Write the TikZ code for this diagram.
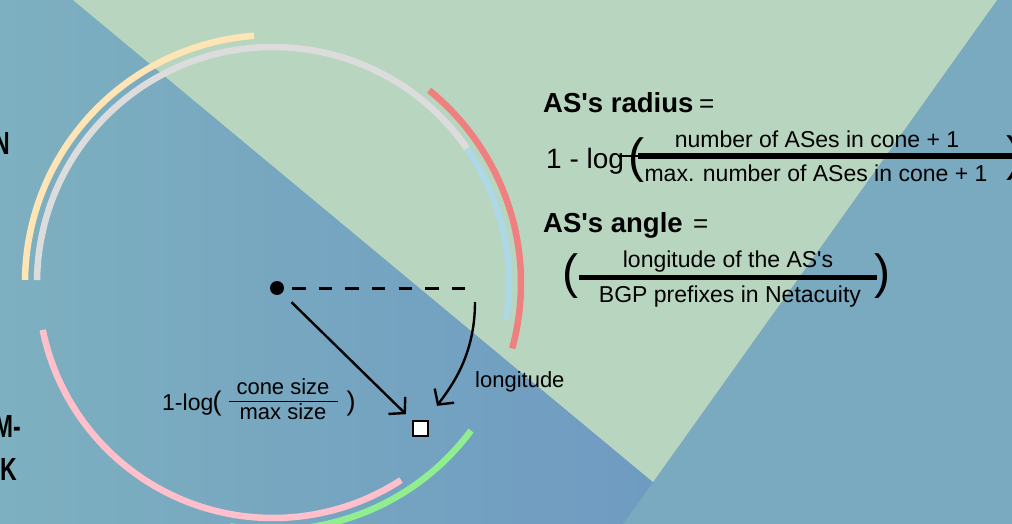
\documentclass[tikz,border=0pt]{standalone}
\usepackage{fontspec}
\setmainfont{Liberation Sans}
\newfontfamily\condfont[FakeStretch=0.72]{Liberation Sans}
\usetikzlibrary{arrows.meta,calc}
\definecolor{bgright}{HTML}{79AABF}
\definecolor{bgleftA}{HTML}{7DB0C0}
\definecolor{bgleftB}{HTML}{6F9BC1}
\definecolor{bggreen}{HTML}{B8D6BF}
\definecolor{arcyellow}{HTML}{FFE4B5}
\definecolor{arcgray}{HTML}{DCDCDC}
\definecolor{arcblue}{HTML}{ADD8E6}
\definecolor{arcred}{HTML}{F08080}
\definecolor{arcpink}{HTML}{FFC0CB}
\definecolor{arcgreen}{HTML}{90EE90}
\newcommand{\apos}{\textquotesingle}
\begin{document}
\begin{tikzpicture}[x=1pt,y=-1pt,
  ring/.style={line width=6.5pt, line cap=butt},
  arr/.style={-{Straight Barb[length=11pt,width=24pt]}, line width=2.4pt},
  txt/.style={inner sep=0pt, font=\fontsize{23}{27}\selectfont},
  big/.style={inner sep=0pt, font=\fontsize{27.5}{30}\selectfont\bfseries},
  eqs/.style={inner sep=0pt, font=\fontsize{26}{30}\selectfont},
  paren/.style={inner sep=0pt, font=\fontsize{48}{50}\selectfont},
  sm/.style={inner sep=0pt, font=\fontsize{22}{25}\selectfont},
  smparen/.style={inner sep=0pt, font=\fontsize{27}{29}\selectfont},
  side/.style={inner sep=0pt, font=\fontsize{32}{34}\selectfont\condfont\bfseries},
]
\useasboundingbox (0,0) rectangle (1012,524);
\clip (0,0) rectangle (1012,524);
% background
\fill[bgright] (0,0) rectangle (1012,524);
\shade[left color=bgleftA, right color=bgleftB] (0,0) -- (73,0) -- (653,482) -- (623,524) -- (0,524) -- cycle;
\fill[bggreen] (73,0) -- (997,0) -- (653,482) -- cycle;

% clipped side texts
\node[side, anchor=base east] (s1) at (10,155) {N};
\node[side, anchor=base east] (s2) at (21,437) {M-};
\node[side, anchor=base east] (s3) at (17,480) {K};

% rings
\coordinate (O) at (273,283);
\draw[ring, arcyellow] ($(O)+(-94.4:248)$) arc[start angle=-94.4, end angle=-179.3, radius=248];
\draw[ring, arcgray] ($(O)+(-34.7:236)$) arc[start angle=-34.7, end angle=-179.3, radius=236];
\draw[ring, arcblue] ($(O)+(9:236)$) arc[start angle=9, end angle=-34.7, radius=236];
\draw[ring, arcred] ($(O)+(15.3:248)$) arc[start angle=15.3, end angle=-51, radius=248];
\draw[ring, arcpink] ($(O)+(168.5:235)$) arc[start angle=168.5, end angle=57, radius=235];
\draw[ring, arcgreen] ($(O)+(100:247)$) arc[start angle=100, end angle=36.7, radius=247];

% center dot, dashed radius, target square
\node[circle, fill=black, minimum size=14pt, inner sep=0pt] (c) at (277,288) {};
\coordinate (dashend) at (465,288);
\draw[line width=3pt, dash pattern=on 13.3pt off 13.3pt, shorten <=8pt] (c) -- (dashend);
\node[draw=black, line width=2.8pt, fill=white, minimum size=15pt, inner sep=0pt] (sq) at (420.5,428.5) {};
\draw[arr, shorten <=13pt, shorten >=8pt] (c) -- (sq);
\coordinate (ls) at (475,302);
\draw[arr, shorten >=17pt] (ls) .. controls (475,357) and (450,388) .. (sq);

% labels near the circle
\node[sm, anchor=base west] (lon) at (475,387) {longitude};
\node[inner sep=0pt, font=\fontsize{23}{25}\selectfont, anchor=base west] (ll) at (162,410) {1-log};
\node[smparen] (llp) at (217,404) {(};
\node[sm, anchor=base] (cn) at (283,394) {cone size};
\node[sm, anchor=base] (cd) at (283,419) {max size};
\draw[line width=1pt] (229,401) -- (338,401);
\node[smparen] (lrp) at (351,404) {)};

% formula: radius
\node[big, anchor=base west] (rl) at (543,113) {AS\apos s radius};
\node[eqs, anchor=base west] (req) at (699,113) {=};
\node[inner sep=0pt, font=\fontsize{28}{30}\selectfont, anchor=base west] (one) at (546,168) {1 - log};
\draw[line width=1.2pt] (618,156) -- (640,156);
\draw[line width=5.5pt] (638,156) -- (1012,156);
\node[paren] (lp1) at (636,160) {(};
\node[paren, anchor=west] (rp1) at (1006,158) {)};
\node[txt, anchor=base] (n1) at (817,147) {number of ASes in cone + 1};
\node[txt, anchor=base] (d1) at (816,181) {max. number of ASes in cone + 1};

% formula: angle
\node[big, anchor=base west] (al) at (543,232) {AS\apos s angle};
\node[eqs, anchor=base west] (aeq) at (693,232) {=};
\node[paren] (lp2) at (570,276) {(};
\node[paren] (rp2) at (882,276) {)};
\draw[line width=5pt] (579,277) -- (877,277);
\node[txt, anchor=base] (n2) at (728,267) {longitude of the AS\apos s};
\node[txt, anchor=base] (d2) at (730,302) {BGP prefixes in Netacuity};
\end{tikzpicture}
\end{document}
